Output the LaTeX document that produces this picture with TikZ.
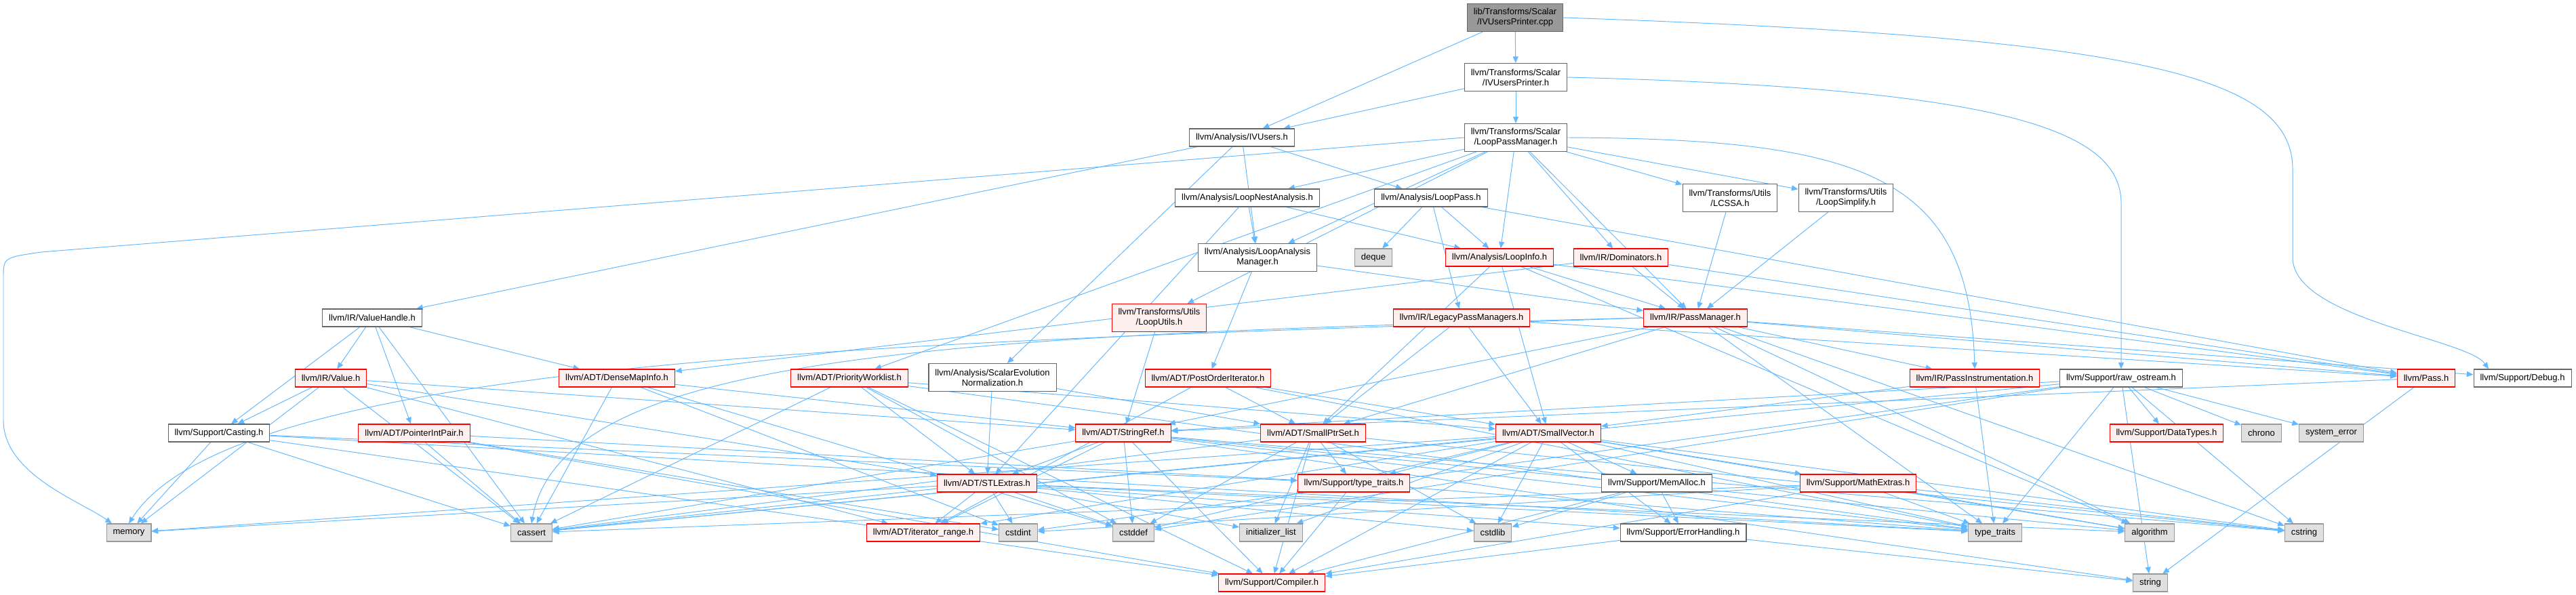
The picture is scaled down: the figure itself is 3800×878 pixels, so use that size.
\documentclass[tikz,border=0pt]{standalone}
\usepackage{fontspec}
\setmainfont{Liberation Sans}
\usepackage{tikz}
\usetikzlibrary{arrows.meta}

\definecolor{edgeblue}{HTML}{63B8FF}
\definecolor{docgray}{HTML}{666666}
\definecolor{redfill}{HTML}{FFF0F0}
\definecolor{sysfill}{HTML}{E0E0E0}
\definecolor{sysline}{HTML}{999999}
\definecolor{rootfill}{HTML}{999999}

\pgfdeclarelayer{bg}
\pgfsetlayers{bg,main}

\begin{document}
\begin{tikzpicture}[
    x=0.02cm, y=-0.02cm,
    >={Triangle[length=5.5pt,width=4.6pt]},
    font=\fontsize{7.4}{8.6}\selectfont,
    block/.style={
      rectangle,
      draw=docgray,
      fill=white,
      line width=0.6pt,
      align=center,
      minimum height=0.52cm,
      inner xsep=0.19cm,
      inner ysep=0.04cm
    },
    twoline/.style={minimum height=0.82cm},
    redblock/.style={block, draw=red, fill=redfill},
    sysblock/.style={block, draw=sysline, fill=sysfill},
    rootblock/.style={block, twoline, fill=rootfill}
  ]
    \useasboundingbox (0,0) rectangle (3800,878);

    % top of the graph
    \node[rootblock] (cpp) at (2235,26) {lib/Transforms/Scalar\\/IVUsersPrinter.cpp};
    \node[block, twoline] (ivuprinter) at (2236,114) {llvm/Transforms/Scalar\\/IVUsersPrinter.h};
    \node[block] (ivusers) at (1832,203) {llvm/Analysis/IVUsers.h};
    \node[block, twoline] (lpm) at (2236,203) {llvm/Transforms/Scalar\\/LoopPassManager.h};

    \node[block] (lna) at (1840,292) {llvm/Analysis/LoopNestAnalysis.h};
    \node[block] (looppass) at (2111,292) {llvm/Analysis/LoopPass.h};
    \node[block, twoline] (lcssa) at (2552,292) {llvm/Transforms/Utils\\/LCSSA.h};
    \node[block, twoline] (loopsimplify) at (2723,292) {llvm/Transforms/Utils\\/LoopSimplify.h};

    \node[block, twoline] (lam) at (1855,380) {llvm/Analysis/LoopAnalysis\\Manager.h};
    \node[sysblock] (deque) at (2026,380) {deque};
    \node[redblock] (loopinfo) at (2212,380) {llvm/Analysis/LoopInfo.h};
    \node[redblock] (dominators) at (2391,380) {llvm/IR/Dominators.h};

    \node[block] (valuehandle) at (549,469) {llvm/IR/ValueHandle.h};
    \node[redblock, twoline] (looputils) at (1710,469) {llvm/Transforms/Utils\\/LoopUtils.h};
    \node[redblock] (legacypm) at (2156,469) {llvm/IR/LegacyPassManagers.h};
    \node[redblock] (passmanager) at (2501,469) {llvm/IR/PassManager.h};

    \node[redblock] (value) at (488,558) {llvm/IR/Value.h};
    \node[redblock] (densemapinfo) at (910,558) {llvm/ADT/DenseMapInfo.h};
    \node[redblock] (worklist) at (1253,558) {llvm/ADT/PriorityWorklist.h};
    \node[block, twoline] (scevnorm) at (1464,557) {llvm/Analysis/ScalarEvolution\\Normalization.h};
    \node[redblock] (postorder) at (1782,558) {llvm/ADT/PostOrderIterator.h};
    \node[redblock] (passinstr) at (2913,558) {llvm/IR/PassInstrumentation.h};
    \node[block] (rawostream) at (3129,558) {llvm/Support/raw\_ostream.h};
    \node[redblock] (pass) at (3579,558) {llvm/Pass.h};
    \node[block] (debug) at (3721,558) {llvm/Support/Debug.h};

    \node[block] (casting) at (323,639) {llvm/Support/Casting.h};
    \node[redblock] (ptrintpair) at (611,639) {llvm/ADT/PointerIntPair.h};
    \node[redblock] (stringref) at (1657,639) {llvm/ADT/StringRef.h};
    \node[redblock] (smallptrset) at (1937,639) {llvm/ADT/SmallPtrSet.h};
    \node[redblock] (smallvector) at (2284,639) {llvm/ADT/SmallVector.h};
    \node[redblock] (datatypes) at (3196,639) {llvm/Support/DataTypes.h};
    \node[sysblock] (chrono) at (3336,639) {chrono};
    \node[sysblock] (syserror) at (3439,639) {system\_error};

    \node[redblock] (stlextras) at (1456,713) {llvm/ADT/STLExtras.h};
    \node[redblock] (typetraitsh) at (1997,713) {llvm/Support/type\_traits.h};
    \node[block] (memalloc) at (2444,713) {llvm/Support/MemAlloc.h};
    \node[redblock] (mathextras) at (2741,713) {llvm/Support/MathExtras.h};

    % bottom rows
    \node[sysblock] (memory) at (190,786) {memory};
    \node[sysblock] (cassert) at (784,786) {cassert};
    \node[redblock] (iterrange) at (1362,786) {llvm/ADT/iterator\_range.h};
    \node[sysblock] (cstdint) at (1502,786) {cstdint};
    \node[sysblock] (cstddef) at (1672,786) {cstddef};
    \node[sysblock] (initlist) at (1875,786) {initializer\_list};
    \node[sysblock] (cstdlib) at (2202,786) {cstdlib};
    \node[block] (errorhandling) at (2483,786) {llvm/Support/ErrorHandling.h};
    \node[sysblock] (typetraits) at (2943,786) {type\_traits};
    \node[sysblock] (algorithm) at (3171,786) {algorithm};
    \node[sysblock] (cstring) at (3399,786) {cstring};
    \node[redblock] (compiler) at (1876,860) {llvm/Support/Compiler.h};
    \node[sysblock] (string) at (3172,860) {string};

    \begin{pgfonlayer}{bg}
    \begin{scope}[->, draw=edgeblue, line width=0.55pt]
      \draw (cpp) -- (ivuprinter);
      \draw (cpp) -- (ivusers);
      \draw (cpp.east) .. controls (3150,55) and (3382,110) .. (3382,250) -- (3382,380)
        .. controls (3382,470) and (3640,500) .. ([xshift=-1cm]debug.north);
      \draw (ivuprinter) -- (ivusers);
      \draw (ivuprinter) -- (lpm);
      \draw (ivuprinter.east) .. controls (2950,130) and (3129,190) .. (3129,300) -- (rawostream.north);
      \draw (ivusers) -- (looppass);
      \draw (ivusers) -- (lam);
      \draw (ivusers) -- (scevnorm);
      \draw (ivusers) -- (valuehandle);
      \draw (lpm) -- (lna);
      \draw (lpm) -- (lam);
      \draw (lpm) -- (loopinfo);
      \draw (lpm) -- (dominators);
      \draw (lpm) -- (passmanager);
      \draw (lpm) -- (lcssa);
      \draw (lpm) -- (loopsimplify);
      \draw (lpm) -- (looputils);
      \draw (lpm) -- (worklist);
      \draw (lpm.east) .. controls (2750,205) and (2905,260) .. (passinstr.north);
      \draw (lpm.west) -- (61,372) .. controls (5,380) .. (5,410) -- (5,620)
        .. controls (5,700) and (120,740) .. ([xshift=-0.5cm]memory.north);
      \draw (lna) -- (lam);
      \draw (lna) -- (loopinfo);
      \draw (lna) -- (stlextras);
      \draw (looppass) -- (deque);
      \draw (looppass) -- (loopinfo);
      \draw (looppass) -- (legacypm);
      \draw (looppass) -- (pass);
      \draw (lam) -- (passmanager);
      \draw (lam) -- (postorder);
      \draw (loopinfo) -- (passmanager);
      \draw (loopinfo) -- (pass);
      \draw (loopinfo) -- (smallptrset);
      \draw (loopinfo) -- (smallvector);
      \draw (loopinfo) -- (algorithm);
      \draw (dominators) -- (passmanager);
      \draw (dominators) -- (pass);
      \draw (dominators) -- (densemapinfo);
      \draw (lcssa) -- (passmanager);
      \draw (loopsimplify) -- (passmanager);
      \draw (looputils) -- (stringref);
      \draw (legacypm) -- (smallptrset);
      \draw (legacypm) -- (smallvector);
      \draw (legacypm) -- (pass);
      \draw (passmanager) -- (passinstr);
      \draw (passmanager) -- (pass);
      \draw (passmanager) -- (debug);
      \draw (passmanager) -- (smallptrset);
      \draw (passmanager) -- (stringref);
      \draw (passmanager) -- (algorithm);
      \draw (passmanager) -- (cstring);
      \draw (passmanager) -- (typetraits);
      \draw (passmanager.west) .. controls (1400,495) and (830,520) .. (cassert.north);
      \draw (passmanager.west) .. controls (1400,505) and (350,520) .. (memory.north);
      \draw (valuehandle) -- (value);
      \draw (valuehandle) -- (densemapinfo);
      \draw (valuehandle) -- (ptrintpair);
      \draw (valuehandle) -- (casting);
      \draw (valuehandle) -- (cassert);
      \draw (value) -- (stlextras);
      \draw (value) -- (stringref);
      \draw (value) -- (iterrange);
      \draw (value) -- (casting);
      \draw (value) -- (cassert);
      \draw (value) -- (memory);
      \draw (densemapinfo) -- (stringref);
      \draw (densemapinfo) -- (cassert);
      \draw (densemapinfo) -- (cstddef);
      \draw (densemapinfo) -- (cstdint);
      \draw (worklist) -- (stlextras);
      \draw (worklist) -- (smallvector);
      \draw (worklist) -- (compiler);
      \draw (worklist) -- (cassert);
      \draw (worklist) -- (cstddef);
      \draw (worklist) -- (typetraits);
      \draw (scevnorm) -- (stlextras);
      \draw (scevnorm) -- (smallptrset);
      \draw (postorder) -- (smallptrset);
      \draw (postorder) -- (smallvector);
      \draw (postorder) -- (iterrange);
      \draw (postorder) -- (typetraits);
      \draw (passinstr) -- (smallvector);
      \draw (passinstr) -- (typetraits);
      \draw (rawostream) -- (stringref);
      \draw (rawostream) -- (datatypes);
      \draw (rawostream) -- (cassert);
      \draw (rawostream) -- (chrono);
      \draw (rawostream) -- (cstddef);
      \draw (rawostream) -- (cstdint);
      \draw (rawostream) -- (cstring);
      \draw (rawostream) -- (string);
      \draw (rawostream) -- (syserror);
      \draw (rawostream) -- (typetraits);
      \draw (pass) -- (stringref);
      \draw (pass) -- (string);
      \draw (casting) -- (memory);
      \draw (casting) -- (cassert);
      \draw (casting) -- (typetraitsh);
      \draw (casting) -- (compiler);
      \draw (casting) -- (typetraits);
      \draw (ptrintpair) -- (compiler);
      \draw (ptrintpair) -- (typetraitsh);
      \draw (ptrintpair) -- (cassert);
      \draw (ptrintpair) -- (cstdint);
      \draw (stringref) -- (stlextras);
      \draw (stringref) -- (iterrange);
      \draw (stringref) -- (compiler);
      \draw (stringref) -- (algorithm);
      \draw (stringref) -- (cassert);
      \draw (stringref) -- (cstddef);
      \draw (stringref) -- (cstring);
      \draw (stringref) -- (string);
      \draw (stringref) -- (typetraits);
      \draw (smallptrset) -- (compiler);
      \draw (smallptrset) -- (typetraitsh);
      \draw (smallptrset) -- (cassert);
      \draw (smallptrset) -- (cstddef);
      \draw (smallptrset) -- (cstdlib);
      \draw (smallptrset) -- (cstring);
      \draw (smallptrset) -- (initlist);
      \draw (smallvector) -- (iterrange);
      \draw (smallvector) -- (compiler);
      \draw (smallvector) -- (errorhandling);
      \draw (smallvector) -- (mathextras);
      \draw (smallvector) -- (memalloc);
      \draw (smallvector) -- (typetraitsh);
      \draw (smallvector) -- (algorithm);
      \draw (smallvector) -- (cassert);
      \draw (smallvector) -- (cstddef);
      \draw (smallvector) -- (cstdlib);
      \draw (smallvector) -- (cstring);
      \draw (smallvector) -- (initlist);
      \draw (smallvector) -- (memory);
      \draw (smallvector) -- (typetraits);
      \draw (stlextras) -- (iterrange);
      \draw (stlextras) -- (errorhandling);
      \draw (stlextras) -- (algorithm);
      \draw (stlextras) -- (cassert);
      \draw (stlextras) -- (cstddef);
      \draw (stlextras) -- (cstdint);
      \draw (stlextras) -- (cstdlib);
      \draw (stlextras) -- (initlist);
      \draw (stlextras) -- (memory);
      \draw (stlextras) -- (typetraits);
      \draw (typetraitsh) -- (compiler);
      \draw (typetraitsh) -- (typetraits);
      \draw (memalloc) -- (compiler);
      \draw (memalloc) -- (errorhandling);
      \draw (memalloc) -- (cstdlib);
      \draw (mathextras) -- (compiler);
      \draw (mathextras) -- (algorithm);
      \draw (mathextras) -- (cassert);
      \draw (mathextras) -- (cstdint);
      \draw (mathextras) -- (cstring);
      \draw (mathextras) -- (typetraits);
      \draw (errorhandling) -- (compiler);
      \draw (errorhandling) -- (string);
    \end{scope}
    \end{pgfonlayer}
\end{tikzpicture}
\end{document}
